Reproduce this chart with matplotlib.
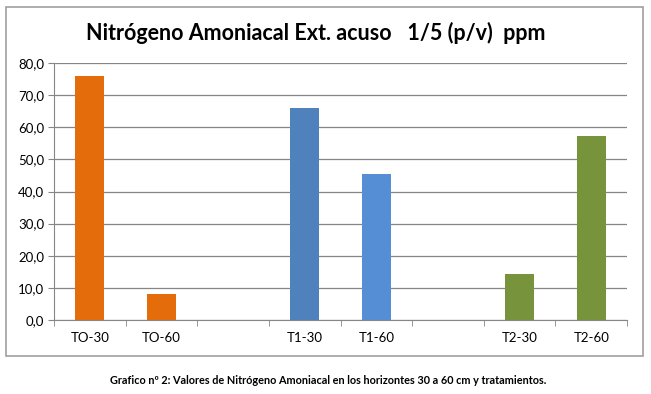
import matplotlib
matplotlib.use("Agg")
import matplotlib.pyplot as plt
from matplotlib.patches import FancyBboxPatch
from matplotlib.ticker import FuncFormatter

categorias = ["TO-30", "TO-60", "", "T1-30", "T1-60", "", "T2-30", "T2-60"]
valores = [76.0, 8.2, 0, 66.0, 45.5, 0, 14.3, 57.2]
colores = ["#E46C0A", "#E46C0A", "white", "#4F81BD", "#558ED5", "white", "#77933C", "#77933C"]
titulo = "Nitrógeno Amoniacal Ext. acuso   1/5 (p/v)  ppm"
pie = "Grafico nº 2: Valores de Nitrógeno Amoniacal en los horizontes 30 a 60 cm y tratamientos."

plt.rcParams['font.family'] = ['Lato', 'DejaVu Sans']

fig = plt.figure(figsize=(6.51, 3.94), dpi=100)
W, H = 651, 394

# marco del grafico
marco = FancyBboxPatch((6 / W, 1 - 356 / H), 637 / W, 349 / H,
                       boxstyle="square,pad=0", transform=fig.transFigure,
                       facecolor="white", edgecolor="#A0A0A0", linewidth=1.2,
                       zorder=-5)
fig.patches.append(marco)

ax = fig.add_axes([54 / W, 1 - 320 / H, 573 / W, 257 / H])
ax.set_zorder(2)
ax.patch.set_alpha(0)
x = list(range(len(categorias)))
alt = [v if c else 0 for v, c in zip(valores, categorias)]
ax.bar(x, alt, width=0.4, color=colores, zorder=3)

ax.set_xlim(-0.5, len(categorias) - 0.5)
ax.set_ylim(0, 80)
ax.set_yticks(range(0, 81, 10))
ax.yaxis.set_major_formatter(FuncFormatter(lambda v, p: f"{v:.1f}".replace(".", ",")))
ax.set_xticks(x)
ax.set_xticklabels(categorias)
ax.set_xticks([i - 0.5 for i in range(len(categorias) + 1)], minor=True)
ax.tick_params(axis="x", which="major", length=0, pad=9, labelsize=9.5)
ax.tick_params(axis="x", which="minor", length=4, color="#868686", direction="out")
ax.tick_params(axis="y", length=4, color="#868686", labelsize=9.5, pad=3)
ax.grid(axis="y", color="#868686", linewidth=0.9, zorder=0)
for s in ["top", "right"]:
    ax.spines[s].set_visible(False)
for s in ["left", "bottom"]:
    ax.spines[s].set_color("#868686")

fig.text(316 / W, 1 - 33 / H, titulo, ha="center", va="center",
         fontsize=15.5, fontweight="bold")
fig.text(328 / W, 1 - 381 / H, pie, ha="center", va="center",
         fontsize=7.8, fontweight="bold")

fig.savefig("out.png", dpi=100)
